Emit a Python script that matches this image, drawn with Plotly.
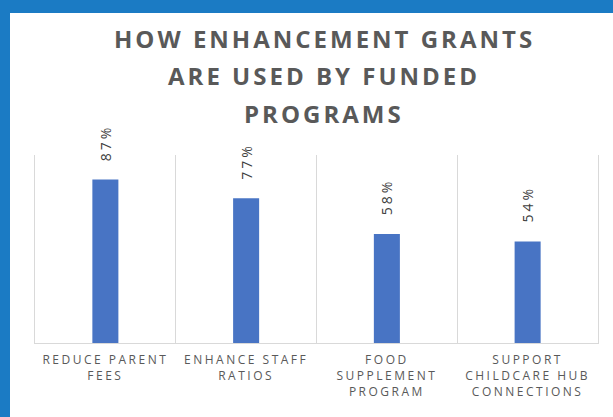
import plotly.graph_objects as go

categories = ["Reduce Parent Fees", "Enhance Staff Ratios", "Food Supplement Program",
              "Support Childcare Hub Connections"]
tick_labels = ["REDUCE PARENT<br>FEES", "ENHANCE STAFF<br>RATIOS",
               "FOOD<br>SUPPLEMENT<br>PROGRAM", "SUPPORT<br>CHILDCARE HUB<br>CONNECTIONS"]
values = [87, 77, 58, 54]
value_labels = ["87%", "77%", "58%", "54%"]
title_lines = ["HOW ENHANCEMENT GRANTS", "ARE USED BY FUNDED", "PROGRAMS"]

W, H = 613, 417
ML, MR, MT, MB = 35, 15, 155, 74
PW, PH = W - ML - MR, H - MT - MB


def px_x(x):
    return (x - ML) / PW


def px_y(y):
    return (H - MB - y) / PH


fig = go.Figure()
fig.add_trace(go.Bar(
    x=categories, y=values, width=0.185,
    marker=dict(color="#4874C4", line=dict(width=0)),
    cliponaxis=False, hoverinfo="skip",
))

border = "#1b7bc4"
shapes = [
    dict(type="rect", xref="paper", yref="paper", x0=px_x(0), x1=px_x(10),
         y0=px_y(H), y1=px_y(0), fillcolor=border, line=dict(width=0), layer="below"),
    dict(type="rect", xref="paper", yref="paper", x0=px_x(0), x1=px_x(W),
         y0=px_y(13), y1=px_y(0), fillcolor=border, line=dict(width=0), layer="below"),
]

title_y = [38, 75, 113]
annotations = []
for line, yy in zip(title_lines, title_y):
    annotations.append(dict(
        text=line, xref="paper", yref="paper", x=px_x(324), y=px_y(yy),
        xanchor="center", yanchor="middle", showarrow=False,
        font=dict(family="Open Sans", size=24, color="#595959", weight="bold"),
    ))

for cat, val, lab in zip(categories, values, value_labels):
    annotations.append(dict(
        text=lab, x=cat, y=val, xref="x", yref="y",
        xanchor="center", yanchor="bottom", yshift=21, textangle=-90,
        showarrow=False,
        font=dict(family="Open Sans", size=14, color="#404040"),
    ))

fig.update_layout(
    width=W, height=H,
    margin=dict(l=ML, r=MR, t=MT, b=MB),
    paper_bgcolor="white", plot_bgcolor="white",
    showlegend=False,
    shapes=shapes,
    annotations=annotations,
    xaxis=dict(
        tickmode="array", tickvals=categories, ticktext=tick_labels,
        tickson="boundaries", ticks="", showgrid=True, gridcolor="#d9d9d9", gridwidth=1,
        showline=True, linecolor="#d9d9d9", linewidth=1,
        tickfont=dict(family="Open Sans", size=12, color="#595959"),
        ticklabelstandoff=6,
        range=[-0.5, 3.5],
    ),
    yaxis=dict(range=[0, 100], showticklabels=False, ticks="", showgrid=False,
               zeroline=False, showline=True, mirror=True,
               linecolor="#d9d9d9", linewidth=1),
)

post = """
document.documentElement.style.margin = '0';
document.body.style.margin = '0';
document.body.style.overflow = 'hidden';
window.scrollTo(0, 0);
var gd = document.getElementById('{plot_id}');
function applySpacing(){
  gd.querySelectorAll('.annotation-text').forEach(function(e, i){
    e.style.letterSpacing = '3px';
  });
  gd.querySelectorAll('.xtick text').forEach(function(e){ e.style.letterSpacing = '2.5px'; });
}
applySpacing();
gd.on('plotly_afterplot', applySpacing);
"""
fig.write_html("out.html", post_script=post, config={"displayModeBar": False})
